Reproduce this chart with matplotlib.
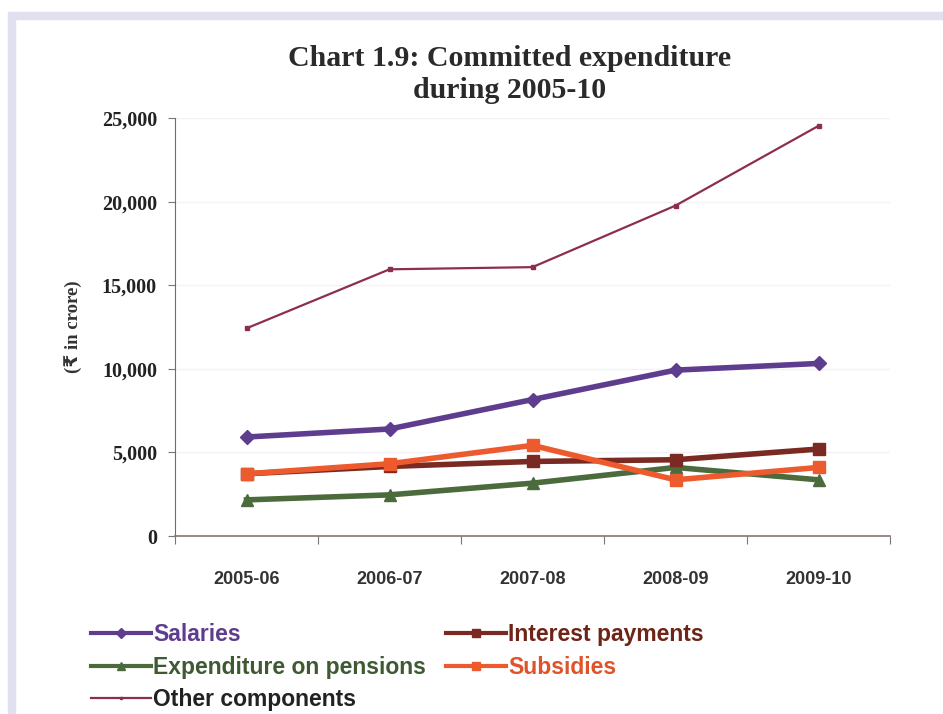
import matplotlib
matplotlib.use("Agg")
import matplotlib.pyplot as plt
from matplotlib.patches import Rectangle
from matplotlib.ticker import FuncFormatter, MultipleLocator

# committed expenditure, in crore
years = ["2005-06", "2006-07", "2007-08", "2008-09", "2009-10"]
salaries = [5920, 6400, 8160, 9920, 10320]
interest_payments = [3720, 4160, 4460, 4560, 5200]
pensions = [2160, 2460, 3160, 4100, 3360]
subsidies = [3720, 4320, 5420, 3360, 4100]
other_components = [12420, 15950, 16080, 19760, 24530]

SERIF = ["Liberation Serif", "DejaVu Serif"]
SANS = ["Liberation Sans Narrow", "Liberation Sans", "DejaVu Sans"]

fig = plt.figure(figsize=(9.43, 7.14), dpi=100)
fig.patch.set_facecolor("white")

# lavender frame around the panel
fig.patches.append(Rectangle((12 / 943, -0.05), 1.2, 1 - 16 / 714 + 0.05,
                             transform=fig.transFigure, fill=False,
                             edgecolor="#e0e0f0", lw=6, zorder=0))

ax = fig.add_axes([175 / 943, 1 - 536 / 714, 715 / 943, 418 / 714])
x = range(len(years))

ax.plot(x, other_components, color="#8c2f4f", lw=1.6, marker="s", ms=3,
        label="Other components", zorder=3)
ax.plot(x, pensions, color="#4b6b3c", lw=4, marker="^", ms=9,
        label="Expenditure on pensions", zorder=4)
ax.plot(x, interest_payments, color="#7a2a22", lw=4, marker="s", ms=9,
        label="Interest payments", zorder=5)
ax.plot(x, subsidies, color="#ec5a2e", lw=4, marker="s", ms=8,
        label="Subsidies", zorder=6)
ax.plot(x, salaries, color="#5e3d8f", lw=4, marker="D", ms=7,
        label="Salaries", zorder=7)

ax.set_xlim(-0.5, len(years) - 0.5)
ax.set_ylim(0, 25000)
ax.yaxis.set_major_locator(MultipleLocator(5000))
ax.yaxis.set_major_formatter(FuncFormatter(lambda v, p: f"{int(v):,}"))
ax.grid(axis="y", color="#f1f1f6", lw=1)
ax.set_axisbelow(True)

ax.set_xticks([i - 0.5 for i in range(len(years) + 1)], minor=False)
ax.set_xticklabels([])
ax.set_xticks(list(x), minor=True)
ax.set_xticklabels(years, minor=True)
ax.tick_params(axis="x", which="major", length=6, color="#777777", direction="out")
ax.tick_params(axis="x", which="minor", length=0, pad=25)
ax.tick_params(axis="y", length=5, color="#777777", pad=8)

for lbl in ax.get_xticklabels(minor=True):
    lbl.set_fontfamily(SANS)
    lbl.set_fontweight("bold")
    lbl.set_fontsize(13)
    lbl.set_color("#333333")
for lbl in ax.get_yticklabels():
    lbl.set_fontfamily(SERIF)
    lbl.set_fontweight("bold")
    lbl.set_fontsize(14.5)
    lbl.set_color("#222222")

for side in ("top", "right"):
    ax.spines[side].set_visible(False)
ax.spines["left"].set_color("#6e6a7a")
ax.spines["bottom"].set_color("#8a7470")
ax.spines["bottom"].set_linewidth(1.2)

ax.set_ylabel("(\u20b9 in crore)", fontsize=13.5, fontweight="bold",
              family=["Liberation Serif", "DejaVu Sans"], color="#333333",
              labelpad=14)

fig.text(510 / 943, 1 - 58 / 714, "Chart 1.9: Committed expenditure",
         ha="center", va="center", fontsize=21.5, fontweight="bold",
         family=SERIF, color="#2a2a2a")
fig.text(510 / 943, 1 - 90 / 714, "during 2005-10",
         ha="center", va="center", fontsize=21.5, fontweight="bold",
         family=SERIF, color="#2a2a2a")

handles = {h.get_label(): h for h in ax.get_lines()}
left_names = ["Salaries", "Expenditure on pensions", "Other components"]
right_names = ["Interest payments", "Subsidies"]
text_colors = {
    "Salaries": "#5e3d8f",
    "Expenditure on pensions": "#3f5a32",
    "Other components": "#222222",
    "Interest payments": "#6e2418",
    "Subsidies": "#e0522a",
}

for names, x0 in ((left_names, 82 / 943), (right_names, 437 / 943)):
    leg = fig.legend([handles[n] for n in names], names,
                     loc="upper left", bbox_to_anchor=(x0, 1 - 614 / 714),
                     frameon=False, handlelength=2.6, handletextpad=0.1,
                     labelspacing=0.42, borderaxespad=0, markerscale=0.7,
                     prop={"family": SANS, "weight": "bold", "size": 16.5})
    for line, name in zip(leg.get_lines(), names):
        line.set_linewidth(1.6 if name == "Other components" else 3)
    for t in leg.get_texts():
        t.set_color(text_colors[t.get_text()])

fig.savefig("out.png", dpi=100, facecolor="white")
